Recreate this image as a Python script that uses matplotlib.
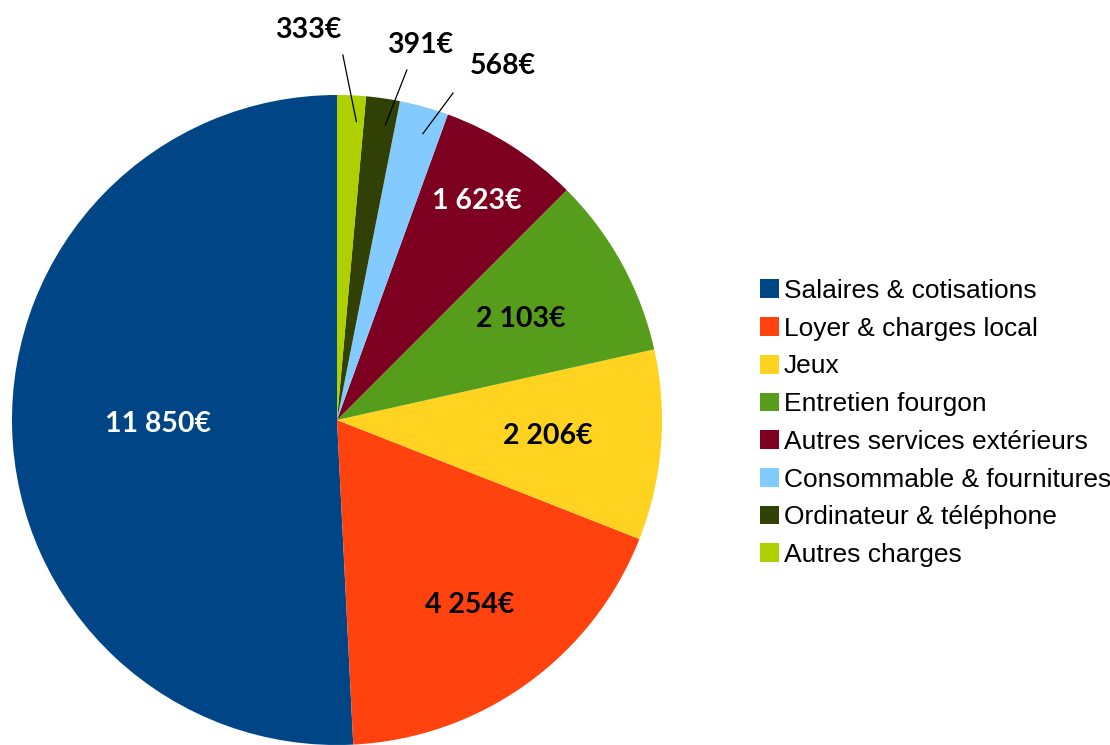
import numpy as np
import matplotlib.pyplot as plt
from matplotlib.patches import Patch

# catégories et montants (€)
categories = ["Salaires & cotisations", "Loyer & charges local", "Jeux", "Entretien fourgon",
              "Autres services extérieurs", "Consommable & fournitures",
              "Ordinateur & téléphone", "Autres charges"]
montants = [11850, 4254, 2206, 2103, 1623, 568, 391, 333]
etiquettes = ["11 850€", "4 254€", "2 206€", "2 103€", "1 623€", "568€", "391€", "333€"]

couleurs = ["#004586", "#ff420e", "#ffd320", "#579d1c", "#7e0021", "#83caff", "#314004", "#aecf00"]
couleurs_texte = ["white", "black", "black", "black", "white", "black", "black", "black"]
rayons_texte = [0.55, 0.70, 0.65, 0.645, 0.80, None, None, None]
# étiquettes extérieures des petites parts : position du texte, départ du trait
ext_texte = {5: (0.51, 1.09), 6: (0.255, 1.155), 7: (-0.09, 1.20)}
ext_trait = {5: (0.357, 1.006), 6: (0.215, 1.077), 7: (0.018, 1.123)}

fig = plt.figure(figsize=(11.1, 7.45), dpi=100)
ax = fig.add_axes([12 / 1110, 0, 650 / 1110, 650 / 745])
wedges, _ = ax.pie(montants, colors=couleurs, startangle=90, counterclock=True, radius=1,
                   wedgeprops=dict(linewidth=0))
ax.set_xlim(-1, 1)
ax.set_ylim(-1, 1)
ax.set_aspect("equal")
ax.axis("off")

for i, w in enumerate(wedges):
    ang = np.deg2rad((w.theta1 + w.theta2) / 2)
    if rayons_texte[i] is not None:
        r = rayons_texte[i]
        ax.text(r * np.cos(ang), r * np.sin(ang), etiquettes[i], ha="center", va="center",
                color=couleurs_texte[i], fontsize=20.5, fontweight="bold", family="Lato")
    else:
        tx, ty = ext_texte[i]
        ax.text(tx, ty, etiquettes[i], ha="center", va="center", fontsize=20.5,
                fontweight="bold", family="Lato", clip_on=False)
        sx, sy = ext_trait[i]
        ax.plot([sx, 0.92 * np.cos(ang - 0.02)], [sy, 0.92 * np.sin(ang - 0.02)],
                color="black", lw=0.9, clip_on=False)

handles = [Patch(facecolor=c, edgecolor="none") for c in couleurs]
fig.legend(handles, categories, loc="center left", bbox_to_anchor=(736 / 1110, 1 - 423 / 745),
           frameon=False, prop={"family": "Liberation Sans", "size": 19},
           handlelength=0.72, handleheight=0.72, handletextpad=0.18, labelspacing=0.52)

fig.savefig("out.png", dpi=100)
